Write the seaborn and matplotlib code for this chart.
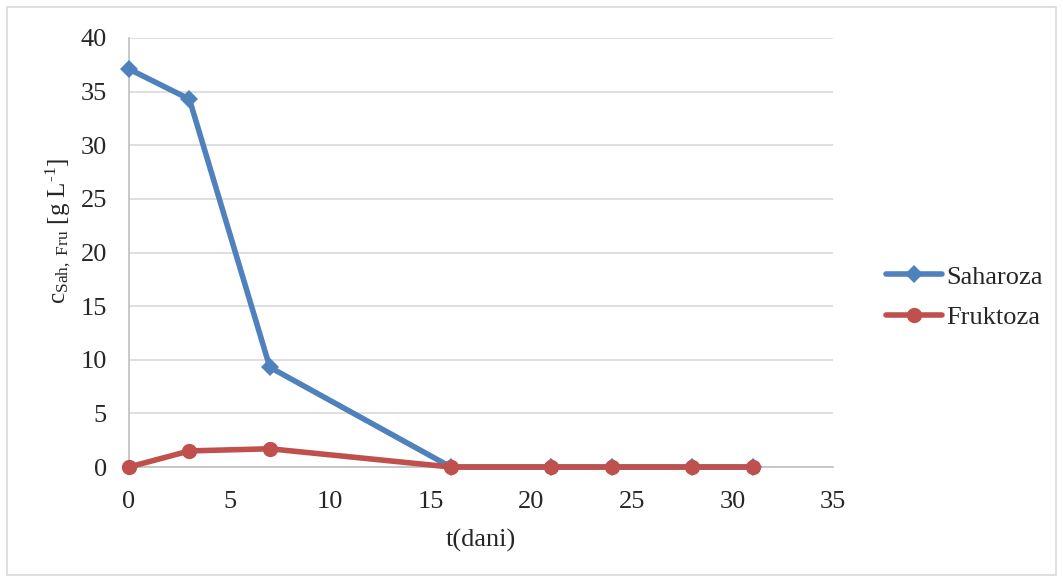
import pandas as pd
import matplotlib.pyplot as plt
import seaborn as sns
from matplotlib.patches import Rectangle

# measured days and concentrations (g/L)
days = [0, 3, 7, 16, 21, 24, 28, 31]
saharoza = [37.1, 34.3, 9.3, 0.0, 0.0, 0.0, 0.0, 0.0]
fruktoza = [0.0, 1.5, 1.7, 0.0, 0.0, 0.0, 0.0, 0.0]
series_names = ['Saharoza', 'Fruktoza']

sns.set_style("white")
plt.rcParams['font.family'] = ['Liberation Serif', 'DejaVu Serif']
plt.rcParams['mathtext.fontset'] = 'custom'
plt.rcParams['mathtext.rm'] = 'Liberation Serif'
plt.rcParams['mathtext.it'] = 'Liberation Serif:italic'

df = pd.DataFrame({
    't': days * 2,
    'c': saharoza + fruktoza,
    'serija': [series_names[0]] * len(days) + [series_names[1]] * len(days),
})

fig = plt.figure(figsize=(10.63, 5.81), dpi=100)
ax = fig.add_axes([0.1214, 0.1962, 0.6622, 0.7384])

sns.lineplot(data=df, x='t', y='c', hue='serija', style='serija',
             markers={'Saharoza': 'D', 'Fruktoza': 'o'}, dashes=False,
             palette={'Saharoza': '#4F81BD', 'Fruktoza': '#C0504D'},
             linewidth=4, markersize=11, markeredgewidth=0, ax=ax)
for ln in ax.lines:
    ln.set_clip_on(False)
    if ln.get_marker() == 'D':
        ln.set_markersize(9)
        ln.set_zorder(3)
    elif ln.get_marker() == 'o':
        ln.set_zorder(4)

ax.set_xlim(0, 35)
ax.set_ylim(0, 40)
ax.set_xticks(range(0, 36, 5))
ax.set_yticks(range(0, 41, 5))
ax.grid(axis='y', color='#D9D9D9', linewidth=1.2)
ax.set_axisbelow(True)
for s in ['top', 'right']:
    ax.spines[s].set_visible(False)
for s in ['left', 'bottom']:
    ax.spines[s].set_color('#BFBFBF')
    ax.spines[s].set_linewidth(1.2)
ax.tick_params(axis='y', length=0, labelsize=19, pad=16)
ax.tick_params(axis='x', length=0, labelsize=19, pad=17)

ax.set_xlabel('t(dani)', fontsize=19, labelpad=12)
ax.set_ylabel(r'c$_{\mathrm{Sah,\ Fru}}$ [g L$^{\text{-1}}$]', fontsize=18)
ax.yaxis.set_label_coords(-0.08, 0.55)

handles, labels = ax.get_legend_handles_labels()
ax.legend(handles, labels, loc='center left', bbox_to_anchor=(1.076, 0.396),
          frameon=False, fontsize=19, handlelength=2.1, handletextpad=0.15,
          labelspacing=0.65, borderpad=0, borderaxespad=0)

fig.patches.append(Rectangle((0.007, 0.01), 0.986, 0.978, transform=fig.transFigure,
                             fill=False, edgecolor='#D9D9D9', linewidth=1.2))

fig.savefig('out.png', dpi=100)
